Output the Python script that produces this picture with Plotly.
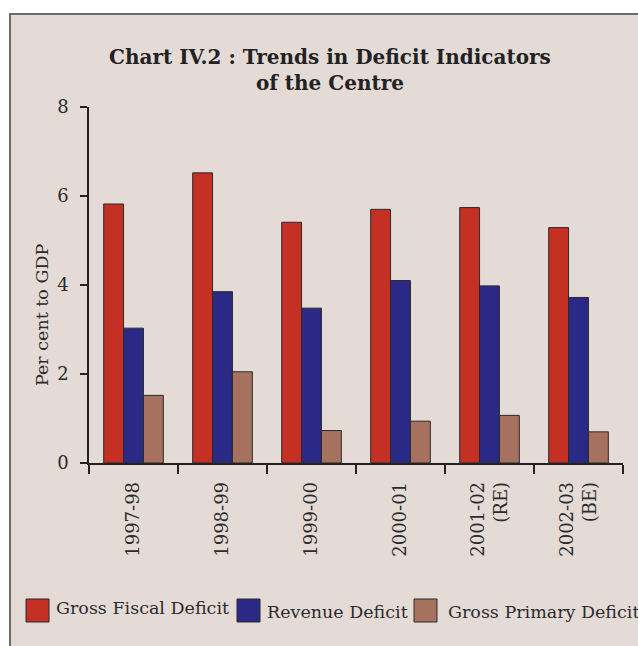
import plotly.graph_objects as go

# Financial years on the category axis
years = ["1997-98", "1998-99", "1999-00", "2000-01", "2001-02<br>(RE)", "2002-03<br>(BE)"]

# Deficit indicators, per cent to GDP
gross_fiscal_deficit = [5.82, 6.52, 5.41, 5.70, 5.74, 5.29]
revenue_deficit = [3.03, 3.85, 3.48, 4.10, 3.98, 3.72]
gross_primary_deficit = [1.52, 2.05, 0.73, 0.94, 1.07, 0.70]

series_names = ["Gross Fiscal Deficit", "Revenue Deficit", "Gross Primary Deficit"]
series_values = [gross_fiscal_deficit, revenue_deficit, gross_primary_deficit]
series_colors = ["#c43024", "#2a2a86", "#a6725f"]

W_PX, H_PX = 638, 646
L, R, T, B = 89, 15, 107, 183
PW, PH = W_PX - L - R, H_PX - T - B
BG = "#e4dbd7"
FONT = "DejaVu Serif"
INK = "#2b2b2b"


def px_x(x):
    return (x - L) / PW


def px_y(y):
    return (H_PX - B - y) / PH


fig = go.Figure()
for name, vals, col in zip(series_names, series_values, series_colors):
    fig.add_trace(go.Bar(
        x=years, y=vals, name=name,
        marker=dict(color=col, line=dict(color="#2a2a2a", width=1)),
        showlegend=False,
    ))

shapes = [
    # framed panel, open on the right and bottom
    dict(type="rect", xref="paper", yref="paper", layer="below",
         x0=px_x(10), x1=px_x(1200), y0=px_y(1200), y1=px_y(14),
         fillcolor=BG, line=dict(color="#6a6a6a", width=2)),
]
annotations = [
    dict(text="<b>Chart IV.2 : Trends in Deficit Indicators<br>of the Centre</b>",
         xref="paper", yref="paper", x=px_x(330), y=px_y(70),
         xanchor="center", yanchor="middle", showarrow=False,
         font=dict(family=FONT, size=20, color="#222222")),
    dict(text="Per cent to GDP", textangle=-90,
         xref="paper", yref="paper", x=px_x(42), y=px_y(315),
         xanchor="center", yanchor="middle", showarrow=False,
         font=dict(family=FONT, size=17.5, color=INK)),
]

# legend row: swatch + label for each series
legend_items = [(26, 54, 608), (237, 265, 612), (414, 446, 612)]
for (sx, tx, ty), name, col in zip(legend_items, series_names, series_colors):
    shapes.append(dict(type="rect", xref="paper", yref="paper",
                       x0=px_x(sx), x1=px_x(sx + 23), y0=px_y(622), y1=px_y(599),
                       fillcolor=col, line=dict(color="#2a2a2a", width=1)))
    annotations.append(dict(text=name, xref="paper", yref="paper",
                            x=px_x(tx), y=px_y(ty), xanchor="left", yanchor="middle",
                            showarrow=False,
                            font=dict(family=FONT, size=17.5, color=INK)))

fig.update_layout(
    width=W_PX, height=H_PX,
    margin=dict(l=L, r=R, t=T, b=B),
    paper_bgcolor="white", plot_bgcolor="rgba(0,0,0,0)",
    barmode="group", bargap=0.33, bargroupgap=0,
    shapes=shapes, annotations=annotations,
    showlegend=False,
    font=dict(family=FONT, color=INK),
)
fig.update_xaxes(
    type="category",
    showline=True, linecolor="#222222", linewidth=1.5,
    ticks="outside", ticklen=9, tickcolor="#222222", tickwidth=1.5,
    tickson="boundaries", tickangle=-90, showgrid=False,
    ticklabelstandoff=10,
    tickfont=dict(family=FONT, size=18, color=INK),
)
fig.update_yaxes(
    range=[0, 8], tickvals=[0, 2, 4, 6, 8],
    showline=True, linecolor="#222222", linewidth=1.5,
    ticks="outside", ticklen=7, tickcolor="#222222", tickwidth=1.5,
    showgrid=False, zeroline=False, ticklabelstandoff=8,
    tickfont=dict(family=FONT, size=18, color=INK),
)

fig.write_html("out.html")
